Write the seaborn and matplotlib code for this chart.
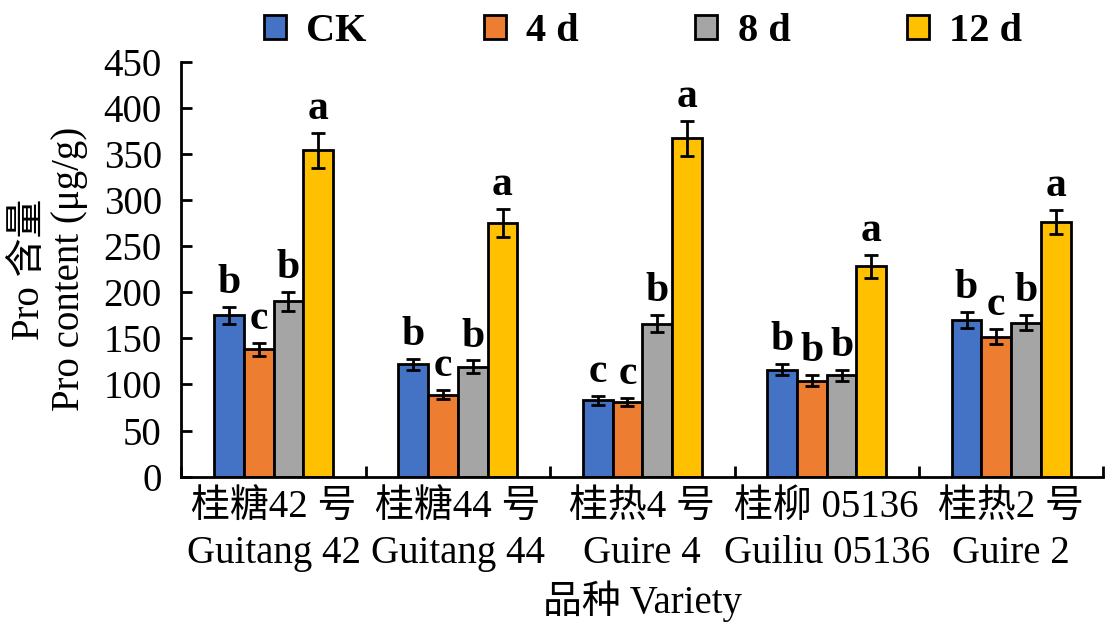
import numpy as np
import pandas as pd
import matplotlib
matplotlib.use("Agg")
import matplotlib.pyplot as plt
import seaborn as sns
from matplotlib.ticker import FixedLocator

# ---- data ----
varieties = ["桂糖42 号\nGuitang 42", "桂糖44 号\nGuitang 44", "桂热4 号\nGuire 4",
             "桂柳 05136\nGuiliu 05136", "桂热2 号\nGuire 2"]
treatments = ["CK", "4 d", "8 d", "12 d"]
ck = [175, 122, 83, 116, 170]
d4 = [138, 89, 81, 104, 152]
d8 = [190, 119, 166, 110, 167]
d12 = [354, 275, 367, 228, 276]
ck_err = [9, 6, 5, 6, 9]
d4_err = [7, 5, 4.5, 6, 8]
d8_err = [10, 7, 9, 6, 8]
d12_err = [19, 15, 19, 12.5, 13]
ck_sig = ["b", "b", "c", "b", "b"]
d4_sig = ["c", "c", "c", "b", "c"]
d8_sig = ["b", "b", "b", "b", "b"]
d12_sig = ["a", "a", "a", "a", "a"]
colors = ["#4472C4", "#ED7D31", "#A5A5A5", "#FFC000"]

values = [ck, d4, d8, d12]
errs = [ck_err, d4_err, d8_err, d12_err]
sigs = [ck_sig, d4_sig, d8_sig, d12_sig]

rows = []
for t, vals in zip(treatments, values):
    for v, val in zip(varieties, vals):
        rows.append({"Variety": v, "Treatment": t, "Pro": val})
df = pd.DataFrame(rows)

sns.set_style("ticks")
plt.rcParams["font.family"] = ["Liberation Serif", "Noto Sans CJK SC"]
plt.rcParams["axes.unicode_minus"] = False
plt.rcParams["text.color"] = "black"
plt.rcParams["axes.labelcolor"] = "black"
plt.rcParams["xtick.color"] = "black"
plt.rcParams["ytick.color"] = "black"
plt.rcParams["axes.edgecolor"] = "black"

fig = plt.figure(figsize=(11.13, 6.44), dpi=100)
ax = fig.add_axes([0.1629, 0.2598, 0.8284, 0.6444])

sns.barplot(data=df, x="Variety", y="Pro", hue="Treatment", order=varieties,
            hue_order=treatments, palette=colors, width=0.645, errorbar=None,
            edgecolor="black", linewidth=2, ax=ax, saturation=1)

bar_conts = list(ax.containers)
for i, cont in enumerate(bar_conts):
    for j, bar in enumerate(cont.patches):
        xc = bar.get_x() + bar.get_width() / 2
        h = bar.get_height()
        e = errs[i][j]
        ax.errorbar(xc, h, yerr=e, color="black", capsize=5, elinewidth=2,
                    capthick=2, fmt="none")
        ax.annotate(sigs[i][j], (xc, h + e), xytext=(0, 10),
                    textcoords="offset points", ha="center", va="baseline",
                    fontsize=30, fontweight="bold")

ax.set_ylim(0, 450)
ax.set_xlim(-0.5, 4.5)
ax.set_yticks(np.arange(0, 451, 50))
ax.xaxis.set_minor_locator(FixedLocator(np.arange(-0.5, 5, 1)))
ax.tick_params(axis="x", which="major", length=0, labelsize=28, pad=9)
ax.tick_params(axis="x", which="minor", length=8, width=2, direction="in")
ax.tick_params(axis="y", which="major", length=8, width=2, direction="in",
               labelsize=28, pad=14)
for lab in ax.get_xticklabels():
    lab.set_linespacing(1.32)
for s in ["top", "right"]:
    ax.spines[s].set_visible(False)
for s in ["left", "bottom"]:
    ax.spines[s].set_linewidth(2)

ax.set_ylabel("Pro 含量\nPro content (μg/g)", fontsize=28, linespacing=1.1)
ax.yaxis.set_label_coords(-0.101, 0.5)
ax.set_xlabel("品种 Variety", fontsize=28, labelpad=6)

handles, labels = ax.get_legend_handles_labels()
if ax.get_legend() is not None:
    ax.get_legend().remove()
fig.legend(handles, labels, loc="center", bbox_to_anchor=(0.578, 0.951), ncol=4,
           frameon=False, handlelength=0.55, handleheight=0.55,
           columnspacing=2.9, handletextpad=0.5,
           prop={"size": 29, "weight": "bold"})

fig.savefig("out.png", dpi=100)
